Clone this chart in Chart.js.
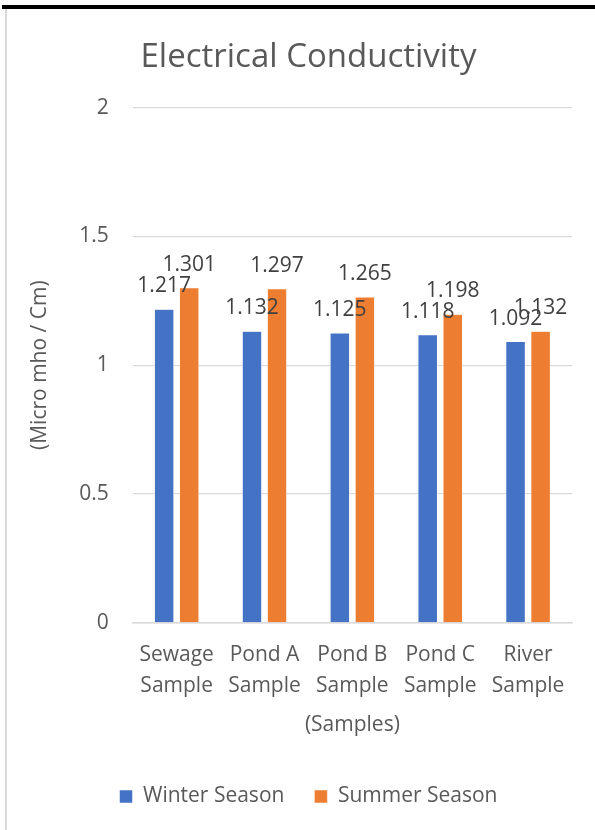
<!DOCTYPE html>
<html>
<head>
<meta charset="utf-8">
<script src="https://cdn.jsdelivr.net/npm/chart.js@4"></script>
<style>
  html, body { margin: 0; padding: 0; background: #fff; overflow: hidden; }
  #wrap { position: relative; width: 595px; height: 830px; overflow: hidden; }
  #topline { position: absolute; left: 2px; top: 5px; width: 593px; height: 4px; background: #000; }
  #leftline { position: absolute; left: 5px; top: 9px; width: 2px; height: 821px; background: #d9d9d9; }
  canvas { position: absolute; left: 0; top: 0; }
</style>
</head>
<body>
<div id="wrap">
  <div id="topline"></div>
  <div id="leftline"></div>
  <canvas id="c" width="595" height="860"></canvas>
</div>
<script>
const categories = [["Sewage","Sample"],["Pond A","Sample"],["Pond B","Sample"],["Pond C","Sample"],["River","Sample"]];
const winterValues = [1.217, 1.132, 1.125, 1.118, 1.092];
const summerValues = [1.301, 1.297, 1.265, 1.198, 1.132];
const seriesNames = ["Winter Season", "Summer Season"];
const yTicks = [0, 0.5, 1, 1.5, 2];

const FONT = "'Open Sans', 'Liberation Sans', sans-serif";
const TEXT = '#595959';
const FS = 21;

const valueLabels = {
  id: 'valueLabels',
  afterDatasetsDraw(chart) {
    const ctx = chart.ctx;
    ctx.save();
    ctx.font = FS + 'px ' + FONT;
    ctx.fillStyle = '#404040';
    ctx.textAlign = 'center';
    ctx.textBaseline = 'alphabetic';
    chart.data.datasets.forEach((ds, i) => {
      const meta = chart.getDatasetMeta(i);
      meta.data.forEach((el, j) => {
        ctx.fillText(String(ds.data[j]), el.x, el.y - 17);
      });
    });
    ctx.restore();
  }
};

new Chart(document.getElementById('c'), {
  type: 'bar',
  data: {
    labels: categories,
    datasets: [
      { label: seriesNames[0], data: winterValues, backgroundColor: '#4472C4', borderColor: '#ffffff', borderWidth: 0.5,
        categoryPercentage: 0.57, barPercentage: 0.78 },
      { label: seriesNames[1], data: summerValues, backgroundColor: '#ED7D31', borderColor: '#ffffff', borderWidth: 0.5,
        categoryPercentage: 0.57, barPercentage: 0.78 }
    ]
  },
  options: {
    responsive: false,
    animation: false,
    devicePixelRatio: 1,
    layout: { padding: { left: 45, right: 23, top: 38, bottom: 43 } },
    plugins: {
      title: {
        display: true,
        text: 'Electrical Conductivity',
        color: TEXT,
        font: { family: FONT, size: 33, weight: 'normal' },
        padding: { top: 0, bottom: 30 }
      },
      legend: {
        position: 'bottom',
        labels: {
          color: TEXT,
          font: { family: FONT, size: FS },
          boxWidth: 13, boxHeight: 13,
          padding: 30
        }
      },
      tooltip: { enabled: false }
    },
    scales: {
      x: {
        grid: { display: false, drawTicks: false },
        border: { display: true, color: '#d9d9d9', width: 1.5 },
        ticks: { color: TEXT, font: { family: FONT, size: FS, lineHeight: 1.5 }, padding: 16, maxRotation: 0, autoSkip: false },
        title: { display: true, text: '(Samples)', color: TEXT, font: { family: FONT, size: FS }, padding: { top: -5, bottom: 18 } }
      },
      y: {
        min: 0, max: 2,
        afterBuildTicks(scale) { scale.ticks = yTicks.map(v => ({ value: v })); },
        grid: { color: '#d9d9d9', lineWidth: 1.2, drawTicks: false },
        border: { display: false },
        ticks: { color: TEXT, font: { family: FONT, size: FS }, padding: 24, callback: v => String(v) },
        title: { display: true, text: '(Micro mho / Cm)', color: TEXT, font: { family: FONT, size: FS }, padding: { top: -18, bottom: 3 } }
      }
    }
  },
  plugins: [valueLabels]
});
</script>
</body>
</html>
